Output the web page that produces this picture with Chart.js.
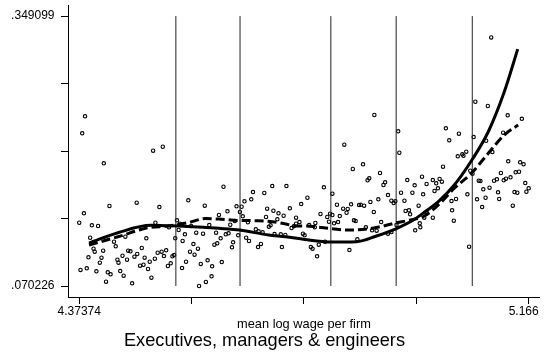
<!DOCTYPE html>
<html>
<head>
<meta charset="utf-8">
<script src="https://cdn.jsdelivr.net/npm/chart.js@4.4.1/dist/chart.umd.min.js"></script>
<style>
  html, body { margin: 0; padding: 0; background: #fff; }
  canvas { display: block; }
</style>
</head>
<body>
<canvas id="wageChart" width="545" height="356"></canvas>
<script>
var FONT = '"Liberation Sans", Arial, Helvetica, sans-serif';

var groupTitle = 'Executives, managers & engineers';
var xTitle = 'mean log wage per firm';

// axis ticks (only the end ticks carry a label; trailing spaces pull the last one inwards)
var xTicks = [4.37374, 4.571805, 4.76987, 4.967935, 5.166];
var xTickLabels = ['4.37374', '', '', '', '5.166   '];
var yTicks = [0.070226, 0.13994425, 0.2096625, 0.27938075, 0.349099];
var yTickLabels = ['.070226', '', '', '', '.349099'];

// cut points of the wage groups
var cutPoints = [4.5441, 4.6572, 4.8173, 4.9324, 5.0666];

// firm level observations
var meanLogWage = [
  4.384, 4.379, 4.417, 4.504, 4.521, 4.427, 4.475, 4.515, 4.382, 4.37374,
  4.396, 4.407, 4.508, 4.393, 4.399, 4.401, 4.416, 4.435, 4.438, 4.455,
  4.492, 4.484, 4.460, 4.464, 4.476, 4.471, 4.450, 4.390, 4.413, 4.410,
  4.441, 4.443, 4.458, 4.489, 4.498, 4.507, 4.512, 4.519, 4.527, 4.523,
  4.530, 4.535, 4.538, 4.541, 4.481, 4.487, 4.495, 4.446, 4.452, 4.424,
  4.429, 4.404, 4.387, 4.376, 4.421, 4.467, 4.501, 4.546, 4.551, 4.543,
  4.556, 4.560, 4.555, 4.562, 4.549, 4.532,
  4.566, 4.595, 4.628, 4.620, 4.635, 4.603, 4.571, 4.580, 4.592, 4.615,
  4.623, 4.632, 4.637, 4.640, 4.612, 4.617, 4.575, 4.583, 4.569, 4.577,
  4.588, 4.600, 4.608, 4.625, 4.607, 4.597, 4.585, 4.645, 4.643, 4.651,
  4.657, 4.660, 4.662, 4.648, 4.654, 4.665, 4.677, 4.680, 4.700, 4.714,
  4.739, 4.671, 4.668, 4.673, 4.685, 4.690, 4.697, 4.689, 4.694, 4.705,
  4.716, 4.725, 4.734, 4.703, 4.723, 4.708, 4.711, 4.718, 4.729, 4.737,
  4.731, 4.745, 4.765, 4.756, 4.762, 4.756, 4.752, 4.748, 4.768, 4.771,
  4.894, 4.936, 4.938, 4.841, 4.856, 4.874, 4.882, 4.885, 4.904, 4.910,
  4.913, 4.805, 4.820, 4.776, 4.828, 4.839, 4.847, 4.853, 4.845, 4.867,
  4.870, 4.876, 4.887, 4.901, 4.893, 4.918, 4.924, 4.928, 4.931, 4.941,
  4.952, 4.965, 4.978, 4.961, 4.947, 4.980, 4.972, 4.949, 4.955, 4.957,
  4.974, 4.966, 4.975, 4.799, 4.811, 4.816, 4.820, 4.814, 4.823, 4.830,
  4.833, 4.779, 4.790, 4.789, 4.782, 4.785, 4.793, 4.850, 4.864, 4.858,
  4.861, 4.879, 4.890, 4.898, 4.906, 4.918, 4.924, 4.933, 4.807, 4.796,
  5.100, 5.072, 5.094, 5.129, 5.154, 5.020, 5.043, 5.026, 5.069, 5.121,
  5.091, 5.041, 5.049, 5.051, 5.056, 5.102, 5.015, 5.063, 5.067, 5.130,
  5.151, 5.157, 5.117, 5.110, 5.105, 5.122, 5.126, 5.134, 5.143, 5.149,
  5.078, 5.081, 5.160, 5.166, 5.162, 5.086, 5.097, 5.112, 5.114, 5.141,
  5.146, 5.138, 5.090, 5.075, 5.084, 5.058, 5.030, 5.038, 5.031, 5.034,
  5.061, 4.997, 5.003, 5.009, 5.013, 5.000, 5.006, 4.986, 4.987, 4.982,
  4.997
];
var execShare = [
  0.2455, 0.2280, 0.1970, 0.2100, 0.2141, 0.1529, 0.1563, 0.1518, 0.1453, 0.1356,
  0.1329, 0.1322, 0.1356, 0.1201, 0.1088, 0.1057, 0.1067, 0.1160, 0.1112, 0.1212,
  0.1195, 0.1095, 0.1067, 0.1061, 0.1033, 0.1005, 0.1015, 0.0999, 0.0995, 0.0943,
  0.0974, 0.0943, 0.0974, 0.0995, 0.0953, 0.0984, 0.1046, 0.1057, 0.1071, 0.1012,
  0.0909, 0.0937, 0.1009, 0.1022, 0.0912, 0.0922, 0.0878, 0.0857, 0.0809, 0.0844,
  0.0823, 0.0854, 0.0885, 0.0868, 0.0747, 0.0730, 0.0788, 0.1381, 0.1346, 0.1195,
  0.1167, 0.1236, 0.0888, 0.0953, 0.1281, 0.1309,
  0.1588, 0.1532, 0.1728, 0.1436, 0.1474, 0.1332, 0.1322, 0.1253, 0.1243, 0.1253,
  0.1195, 0.1236, 0.1247, 0.1335, 0.1129, 0.1143, 0.1136, 0.1088, 0.1057, 0.1026,
  0.0930, 0.0968, 0.0906, 0.0950, 0.0802, 0.0744, 0.070226, 0.1154, 0.1102, 0.1526,
  0.1467, 0.1521, 0.1422, 0.1374, 0.1226, 0.1577, 0.1598, 0.1673, 0.1663, 0.1735,
  0.1735, 0.1360, 0.1201, 0.1167, 0.1288, 0.1267, 0.1257, 0.1105, 0.1137, 0.1501,
  0.1480, 0.1453, 0.1428, 0.1415, 0.1391, 0.1315, 0.1329, 0.1239, 0.1236, 0.1229,
  0.1105, 0.1505, 0.1549, 0.1408, 0.1363, 0.1346, 0.1319, 0.1301, 0.1243, 0.1226,
  0.2469, 0.2300, 0.2079, 0.2162, 0.1911, 0.1959, 0.1794, 0.1815, 0.1870, 0.1746,
  0.1773, 0.1722, 0.1656, 0.1614, 0.1542, 0.1501, 0.1498, 0.1546, 0.1459, 0.1539,
  0.1542, 0.1532, 0.1570, 0.1598, 0.1467, 0.1642, 0.1583, 0.1560, 0.1577, 0.1666,
  0.1797, 0.1742, 0.1831, 0.1666, 0.1583, 0.1650, 0.1532, 0.1477, 0.1484, 0.1443,
  0.1350, 0.1278, 0.1309, 0.1446, 0.1415, 0.1449, 0.1436, 0.1366, 0.1350, 0.1363,
  0.1425, 0.1332, 0.1353, 0.1309, 0.1105, 0.1088, 0.1009, 0.1074, 0.1185, 0.1381,
  0.1374, 0.1309, 0.1278, 0.1274, 0.1363, 0.1243, 0.1260, 0.1332, 0.1160, 0.1129,
  0.3271, 0.2606, 0.2562, 0.2466, 0.2430, 0.2331, 0.2276, 0.2207, 0.2241, 0.2286,
  0.2203, 0.2042, 0.2063, 0.2048, 0.2090, 0.2086, 0.1935, 0.1893, 0.1862, 0.1990,
  0.1980, 0.1959, 0.1870, 0.1804, 0.1790, 0.1794, 0.1811, 0.1825, 0.1877, 0.1883,
  0.1790, 0.1787, 0.1766, 0.1712, 0.1676, 0.1701, 0.1718, 0.1670, 0.1601, 0.1673,
  0.1666, 0.1532, 0.1614, 0.1598, 0.1518, 0.1650, 0.1580, 0.1601, 0.1484, 0.1377,
  0.1108, 0.1797, 0.1763, 0.1808, 0.1780, 0.1684, 0.1712, 0.1756, 0.1453, 0.1408,
  0.1408
];

// smoothed fits (solid and dashed)
var solidX = [4.3910, 4.4420, 4.5001, 4.5300, 4.5652, 4.6197, 4.6567, 4.7077, 4.7376, 4.7710, 4.8168,
  4.8625, 4.8977, 4.9329, 4.9628, 4.9839, 5.0068, 5.0349, 5.0648, 5.0948, 5.1229, 5.1467];
var solidY = [0.1146, 0.1253, 0.1329, 0.1325, 0.1317, 0.1298, 0.1281, 0.1229, 0.1211, 0.1183, 0.1157,
  0.1160, 0.1219, 0.1296, 0.1384, 0.1472, 0.1575, 0.1746, 0.1994, 0.2296, 0.2706, 0.3150];
var dashX = [4.3910, 4.4420, 4.4948, 4.5300, 4.5652, 4.5968, 4.6197, 4.6567, 4.6901, 4.7147, 4.7376,
  4.7552, 4.7745, 4.8045, 4.8449, 4.8801, 4.9100, 4.9329, 4.9575, 4.9822, 5.0085, 5.0349, 5.0648,
  5.0948, 5.1229, 5.1475];
var dashY = [0.1126, 0.1211, 0.1304, 0.1322, 0.1356, 0.1399, 0.1394, 0.1379, 0.1377, 0.1366, 0.1343,
  0.1322, 0.1322, 0.1304, 0.1281, 0.1291, 0.1322, 0.1356, 0.1384, 0.1425, 0.1549, 0.1712, 0.1866,
  0.2073, 0.2262, 0.2365];

function pairs(xs, ys) {
  return xs.map(function(x, i) { return { x: x, y: ys[i] }; });
}

var datasets = [
  {
    data: pairs(solidX, solidY),
    showLine: true,
    borderColor: '#000',
    borderWidth: 3,
    pointRadius: 0,
    cubicInterpolationMode: 'monotone'
  },
  {
    data: pairs(dashX, dashY),
    showLine: true,
    borderColor: '#000',
    borderWidth: 3,
    borderDash: [9, 4],
    pointRadius: 0,
    cubicInterpolationMode: 'monotone'
  }
];

cutPoints.forEach(function(c) {
  datasets.push({
    data: [{ x: c, y: yTicks[0] }, { x: c, y: yTicks[yTicks.length - 1] }],
    showLine: true,
    borderColor: '#222',
    borderWidth: 1,
    pointRadius: 0
  });
});

datasets.push({
  data: pairs(meanLogWage, execShare),
  showLine: false,
  pointStyle: 'circle',
  pointRadius: 1.7,
  borderWidth: 1.1,
  borderColor: '#000',
  backgroundColor: 'rgba(0,0,0,0)'
});

// big caption under the axis title
var bottomTitle = {
  id: 'bottomTitle',
  afterDraw: function(chart) {
    var ctx = chart.ctx;
    ctx.save();
    ctx.font = '18.2px ' + FONT;
    ctx.fillStyle = '#000';
    ctx.textAlign = 'center';
    ctx.textBaseline = 'alphabetic';
    ctx.fillText(groupTitle, chart.width / 2 - 8, 346);
    ctx.restore();
  }
};

Chart.defaults.font.family = FONT;
Chart.defaults.color = '#000';

var ctx = document.getElementById('wageChart').getContext('2d');
var wageChart = new Chart(ctx, {
  type: 'scatter',
  data: { datasets: datasets },
  plugins: [bottomTitle],
  options: {
    responsive: false,
    animation: false,
    devicePixelRatio: 1,
    layout: { padding: { top: 5, right: 4, left: 0, bottom: 0 } },
    plugins: {
      legend: { display: false },
      tooltip: { enabled: false }
    },
    scales: {
      x: {
        type: 'linear',
        min: xTicks[0] - 0.0198,
        max: xTicks[xTicks.length - 1] + 0.0198,
        afterBuildTicks: function(scale) {
          scale.ticks = xTicks.map(function(v) { return { value: v }; });
        },
        afterFit: function(scale) {
          scale.height = 59;
          scale.paddingLeft = 0;
          scale.paddingRight = 0;
        },
        grid: { drawOnChartArea: false, drawTicks: true, tickLength: 7, color: '#000', lineWidth: 1 },
        border: { display: true, color: '#000', width: 1 },
        ticks: {
          autoSkip: false,
          maxRotation: 0,
          padding: 0,
          font: { size: 12 },
          callback: function(v, i) { return xTickLabels[i]; }
        },
        title: {
          display: true,
          text: xTitle,
          font: { size: 12.8 },
          padding: { top: 0, bottom: 24 }
        }
      },
      y: {
        type: 'linear',
        min: yTicks[0] - 0.01136,
        max: yTicks[yTicks.length - 1] + 0.01136,
        afterBuildTicks: function(scale) {
          scale.ticks = yTicks.map(function(v) { return { value: v }; });
        },
        afterFit: function(scale) {
          scale.width = 68;
          scale.paddingTop = 0;
          scale.paddingBottom = 0;
        },
        grid: { drawOnChartArea: false, drawTicks: true, tickLength: 7, color: '#000', lineWidth: 1 },
        border: { display: true, color: '#000', width: 1 },
        ticks: {
          autoSkip: false,
          padding: 6.5,
          font: { size: 12 },
          callback: function(v, i) { return yTickLabels[i]; }
        }
      }
    }
  }
});
</script>
</body>
</html>
